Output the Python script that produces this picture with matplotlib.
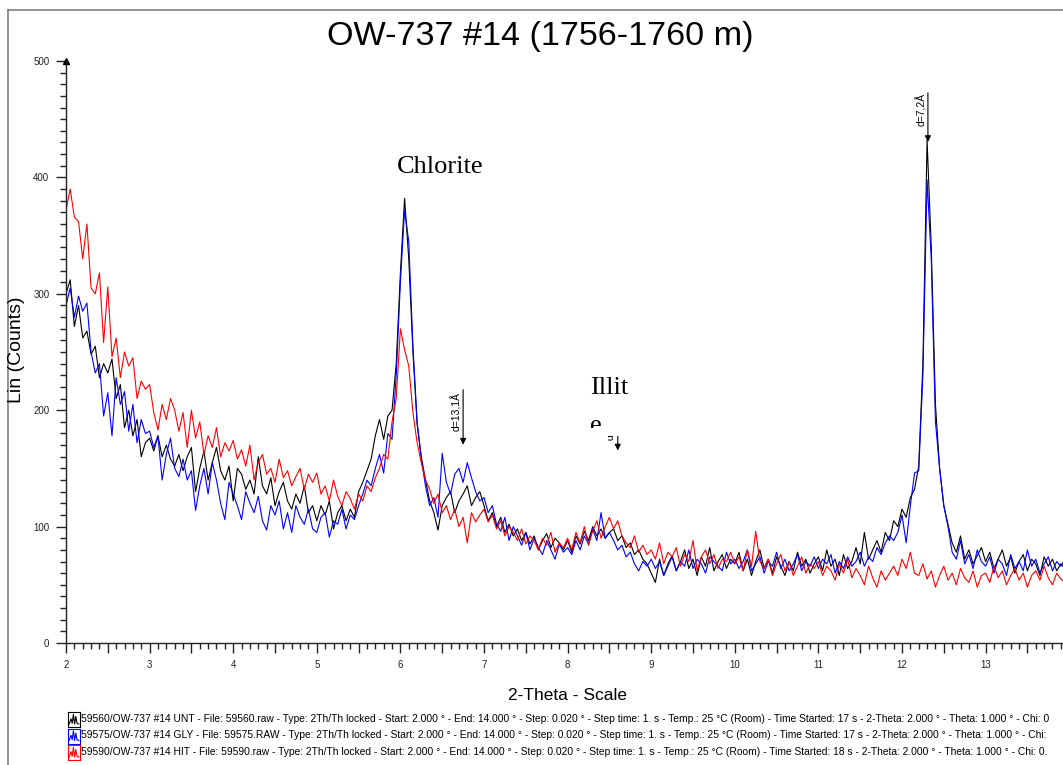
import numpy as np
import matplotlib
matplotlib.use('Agg')
import matplotlib.pyplot as plt
from matplotlib.ticker import MultipleLocator, FuncFormatter
from matplotlib.lines import Line2D
from matplotlib.patches import Rectangle

plt.rcParams['font.family'] = ['Liberation Sans', 'DejaVu Sans']

# counts, 0.05 deg steps starting at 2.00 deg 2-theta
unt = np.array([
    300, 312, 272, 290, 262, 268, 248, 255, 228, 240, 232, 244, 210, 222, 185, 200, 178, 192, 160, 172,
    176, 165, 178, 160, 170, 158, 152, 162, 148, 160, 168, 130, 150, 165, 140, 155, 168, 148, 140, 152,
    122, 150, 145, 132, 140, 128, 160, 135, 128, 142, 118, 130, 138, 122, 115, 128, 120, 135, 112, 118,
    105, 118, 110, 122, 98, 112, 118, 105, 115, 108, 130, 138, 148, 158, 178, 192, 175, 195, 200, 240,
    318, 382, 330, 250, 188, 160, 140, 122, 112, 97, 118, 125, 130, 112, 122, 128, 135, 118, 125, 130,
    118, 105, 112, 100, 108, 95, 102, 92, 98, 88, 95, 85, 92, 80, 88, 94, 82, 90, 86, 80,
    88, 78, 92, 85, 96, 88, 100, 92, 98, 90, 95, 98, 88, 92, 82, 86, 76, 80, 72, 68,
    60, 52, 72, 58, 68, 75, 62, 70, 80, 64, 72, 58, 74, 66, 82, 62, 70, 76, 64, 72,
    68, 78, 62, 72, 58, 70, 80, 64, 72, 60, 74, 66, 58, 70, 62, 78, 66, 72, 60, 68,
    74, 62, 80, 66, 72, 58, 76, 64, 70, 82, 68, 95, 72, 80, 88, 78, 95, 88, 105, 100,
    115, 108, 125, 132, 152, 240, 432, 340, 205, 150, 118, 102, 86, 78, 92, 72, 80, 68, 75, 82,
    70, 78, 64, 72, 80, 66, 74, 60, 70, 76, 62, 72, 68, 58, 74, 66, 72, 62, 68, 64, 66])

gly = np.array([
    290, 305, 280, 298, 285, 292, 250, 232, 240, 195, 215, 178, 228, 205, 216, 182, 205, 172, 192, 180,
    182, 168, 178, 140, 162, 176, 150, 143, 158, 140, 148, 114, 135, 150, 128, 155, 140, 120, 106, 138,
    128, 118, 106, 130, 120, 112, 126, 105, 97, 118, 110, 122, 98, 112, 95, 118, 108, 102, 115, 98,
    95, 108, 112, 91, 105, 102, 115, 98, 110, 106, 118, 128, 140, 135, 150, 162, 146, 180, 175, 230,
    310, 372, 345, 255, 190, 158, 135, 118, 125, 108, 163, 138, 128, 145, 150, 138, 155, 142, 130, 122,
    125, 112, 118, 102, 96, 108, 88, 100, 92, 84, 95, 80, 90, 82, 76, 88, 80, 72, 85, 78,
    82, 76, 88, 80, 92, 85, 98, 88, 112, 90, 95, 88, 80, 84, 74, 78, 68, 62, 70, 66,
    72, 64, 70, 58, 66, 74, 62, 70, 66, 80, 64, 72, 68, 60, 74, 70, 66, 62, 78, 68,
    72, 64, 70, 80, 62, 68, 74, 60, 70, 66, 78, 64, 72, 62, 68, 76, 62, 70, 66, 74,
    64, 72, 68, 76, 60, 70, 64, 74, 66, 70, 78, 66, 74, 70, 82, 76, 86, 92, 88, 95,
    110, 86, 118, 146, 148, 230, 398, 330, 190, 150, 118, 100, 78, 72, 88, 68, 76, 64, 80, 70,
    66, 74, 60, 72, 68, 58, 76, 64, 70, 62, 80, 66, 72, 60, 68, 74, 62, 70, 66, 72, 64])

hit = np.array([
    372, 390, 366, 362, 330, 360, 305, 300, 318, 258, 306, 246, 262, 228, 250, 238, 245, 210, 225, 218,
    222, 198, 183, 205, 192, 210, 200, 182, 198, 168, 200, 176, 190, 162, 178, 168, 185, 160, 172, 165,
    174, 158, 166, 152, 170, 140, 155, 162, 145, 150, 138, 158, 142, 148, 135, 143, 150, 132, 145, 138,
    146, 128, 135, 122, 140, 126, 118, 130, 124, 115, 128, 122, 135, 130, 142, 150, 162, 158, 190, 210,
    270, 252, 238, 198, 172, 155, 140, 132, 120, 128, 112, 118, 106, 115, 100, 108, 86, 112, 104, 110,
    115, 104, 110, 98, 105, 92, 100, 95, 88, 98, 85, 92, 88, 80, 90, 84, 95, 78, 86, 82,
    90, 80, 95, 86, 100, 84, 96, 105, 90, 100, 108, 98, 105, 92, 86, 82, 92, 78, 84, 76,
    80, 72, 86, 68, 78, 74, 82, 66, 76, 70, 88, 62, 74, 80, 68, 76, 64, 72, 70, 78,
    68, 74, 62, 80, 66, 96, 70, 64, 72, 58, 68, 76, 62, 70, 58, 66, 74, 60, 68, 64,
    70, 58, 66, 62, 54, 68, 60, 72, 56, 64, 58, 50, 66, 56, 48, 62, 54, 60, 66, 58,
    72, 64, 78, 60, 58, 68, 55, 62, 48, 58, 66, 54, 60, 50, 64, 56, 52, 62, 48, 58,
    60, 52, 66, 56, 62, 50, 58, 64, 54, 60, 48, 58, 62, 54, 66, 56, 50, 60, 55, 52, 56])

two_theta = 2.0 + 0.05 * np.arange(len(unt))

legend_txt = [
    '59560/OW-737 #14 UNT - File: 59560.raw - Type: 2Th/Th locked - Start: 2.000 ° - End: 14.000 ° - Step: 0.020 ° - Step time: 1. s - Temp.: 25 °C (Room) - Time Started: 17 s - 2-Theta: 2.000 ° - Theta: 1.000 ° - Chi: 0',
    '59575/OW-737 #14 GLY - File: 59575.RAW - Type: 2Th/Th locked - Start: 2.000 ° - End: 14.000 ° - Step: 0.020 ° - Step time: 1. s - Temp.: 25 °C (Room) - Time Started: 17 s - 2-Theta: 2.000 ° - Theta: 1.000 ° - Chi:',
    '59590/OW-737 #14 HIT - File: 59590.raw - Type: 2Th/Th locked - Start: 2.000 ° - End: 14.000 ° - Step: 0.020 ° - Step time: 1. s - Temp.: 25 °C (Room) - Time Started: 18 s - 2-Theta: 2.000 ° - Theta: 1.000 ° - Chi: 0.',
]
colors = ['black', '#0000ff', '#ff0000']

W, H = 1063, 765
fig = plt.figure(figsize=(W / 100, H / 100), dpi=100)
ax = fig.add_axes([66 / W, 122 / H, (W - 66) / W, 582 / H])

for y, c in zip([unt, gly, hit], colors):
    ax.plot(two_theta, y, color=c, lw=0.8)

ax.set_xlim(2, 2 + (W - 66) / 83.6)
ax.set_ylim(0, 500)
for s in ['top', 'right']:
    ax.spines[s].set_visible(False)
for s in ['left', 'bottom']:
    ax.spines[s].set_color('#222222')
    ax.spines[s].set_linewidth(1.0)

ax.xaxis.set_major_locator(MultipleLocator(0.5))
ax.xaxis.set_minor_locator(MultipleLocator(0.1))
ax.xaxis.set_major_formatter(FuncFormatter(lambda v, p: '%d' % round(v) if abs(v - round(v)) < 1e-6 else ''))
ax.yaxis.set_major_locator(MultipleLocator(100))
ax.yaxis.set_minor_locator(MultipleLocator(10))
ax.tick_params(which='major', direction='out', length=7, width=1, labelsize=7, colors='#222222', pad=5)
ax.tick_params(which='minor', direction='out', length=4, width=1, colors='#222222')
ax.plot([0], [1], marker='^', color='black', ms=4, transform=ax.transAxes, clip_on=False)

# peak markers
def mark(x, y0, y1, label, tx, ty):
    ax.annotate('', xy=(x, y1), xytext=(x, y0),
                arrowprops=dict(arrowstyle='-|>', color='black', lw=0.8, mutation_scale=9))
    ax.text(tx, ty, label, rotation=90, fontsize=7.5, ha='center', va='center')

mark(6.75, 220, 168, 'd=13,1Å', 6.67, 199)
mark(8.60, 180, 163, 'd', 8.52, 177)
mark(12.31, 475, 428, 'd=7,2Å', 12.23, 458)

ax.text(6.47, 409, 'Chlorite', family='Liberation Serif', fontsize=19, ha='center', va='center')
ax.text(8.27, 219, 'Illit', family='Liberation Serif', fontsize=19, ha='left', va='center')
ax.text(8.27, 186, 'e', family='Liberation Serif', fontsize=19, ha='left', va='center')
# the "e" is cut off half way in the source
ax.add_patch(Rectangle((8.2, 160), 0.28, 25, facecolor='white', edgecolor='none', zorder=5))

fig.text(540 / W, 1 - 37 / H, 'OW-737 #14 (1756-1760 m)', fontsize=24.6, ha='center', va='center')
fig.text(17 / W, 1 - 350 / H, 'Lin (Counts)', rotation=90, fontsize=14, ha='center', va='center')
fig.text(568 / W, 1 - 695 / H, '2-Theta - Scale', fontsize=12.5, ha='center', va='center')

icon_x = [0.1, 0.25, 0.35, 0.45, 0.55, 0.65, 0.75, 0.9]
icon_y = [0.2, 0.55, 0.25, 0.85, 0.2, 0.7, 0.25, 0.2]
for i, (t, c) in enumerate(zip(legend_txt, colors)):
    yc = 719 + 16.5 * i
    iax = fig.add_axes([68 / W, 1 - (yc + 8) / H, 12 / W, 15 / H])
    iax.plot(icon_x, icon_y, color=c, lw=0.8)
    iax.set_xlim(0, 1)
    iax.set_ylim(0, 1)
    iax.set_xticks([])
    iax.set_yticks([])
    for s in iax.spines.values():
        s.set_color(c)
        s.set_linewidth(0.8)
    fig.text(81 / W, 1 - yc / H, t, fontsize=7.42, ha='left', va='center')

# outer frame of the report page
fig.add_artist(Line2D([8 / W, 1], [1 - 10 / H, 1 - 10 / H], color='#808080', lw=1.2))
fig.add_artist(Line2D([8 / W, 8 / W], [0, 1 - 10 / H], color='#808080', lw=1.2))

fig.savefig('out.png', dpi=100)
